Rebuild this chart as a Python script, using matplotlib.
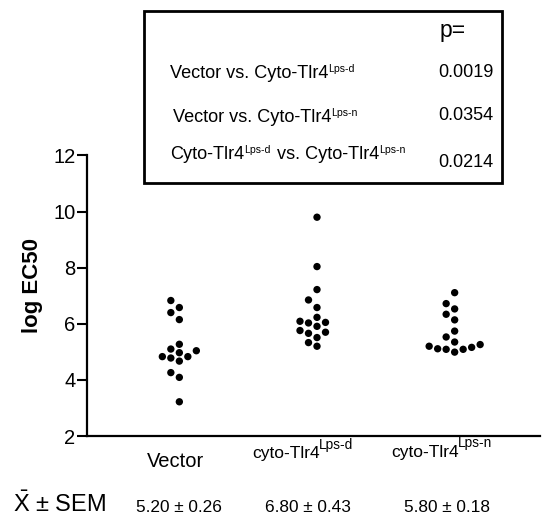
import numpy as np
import matplotlib.pyplot as plt
from matplotlib.patches import Rectangle

plt.rcParams['font.family'] = ['Liberation Sans', 'DejaVu Sans']
plt.rcParams['mathtext.fontset'] = 'custom'
plt.rcParams['mathtext.rm'] = 'Liberation Sans'
plt.rcParams['mathtext.it'] = 'Liberation Sans:italic'

# values (log EC50)
vector = [6.83, 6.58, 6.40, 6.15, 5.27, 5.10, 5.04, 4.97, 4.83, 4.83, 4.78,
          4.67, 4.26, 4.09, 3.22]
cyto_d = [9.80, 8.04, 7.22, 6.85, 6.58, 6.23, 6.05, 6.03, 6.09, 5.91, 5.76,
          5.66, 5.70, 5.51, 5.33, 5.20]
cyto_n = [7.11, 6.72, 6.53, 6.34, 6.14, 5.74, 5.53, 5.26, 5.16, 5.09, 5.35,
          4.99, 5.09, 5.11, 5.20]
groups = [vector, cyto_d, cyto_n]
# (base text, superscript)
group_labels = [('Vector', ''), ('cyto-Tlr4', 'Lps-d'), ('cyto-Tlr4', 'Lps-n')]
means = [5.20, 6.80, 5.80]
sems = [0.26, 0.43, 0.18]

comparisons = [[('Vector vs. Cyto-Tlr4', 'Lps-d')],
               [('Vector vs. Cyto-Tlr4', 'Lps-n')],
               [('Cyto-Tlr4', 'Lps-d'), (' vs. Cyto-Tlr4', 'Lps-n')]]
p_values = ['0.0019', '0.0354', '0.0214']

W, H = 547, 518
fig = plt.figure(figsize=(W / 100, H / 100), dpi=100)
ax = fig.add_axes([86.7 / W, 1 - 436 / H, (540 - 86.7) / W, (436 - 155.5) / H])
renderer = fig.canvas.get_renderer()

xlo, xhi = 0.327, 3.62
ylo, yhi = 2, 12
ax.set_xlim(xlo, xhi)
ax.set_ylim(ylo, yhi)

# pixel scale of the data, for the swarm layout
px_x = (540 - 86.7) / (xhi - xlo)
px_y = (436 - 155.5) / (yhi - ylo)


def swarm(vals, center, d=8.5):
    """place dots in columns so they don't overlap (simple beeswarm)"""
    placed = []
    order = np.argsort(vals)
    xs = np.zeros(len(vals))
    for i in order:
        y = vals[i] * px_y
        for k in [0, -1, 1, -2, 2, -3, 3, -4, 4]:
            x = k * d
            if all((x - px) ** 2 + (y - py) ** 2 >= (d * 0.95) ** 2 for px, py in placed):
                break
        placed.append((x, y))
        xs[i] = center + x / px_x
    return xs


def rich_text(x, y, parts, size, sup_size, rise, gap=0):
    """base text followed by raised superscript, x/y in pixels from top-left"""
    for base, sup in parts:
        t = fig.text(x / W, 1 - y / H, base, fontsize=size, ha='left', va='baseline')
        x += t.get_window_extent(renderer).width + gap
        if sup:
            t = fig.text(x / W, 1 - (y - rise) / H, sup, fontsize=sup_size,
                         ha='left', va='baseline')
            x += t.get_window_extent(renderer).width + 1


for i, vals in enumerate(groups):
    xs = swarm(vals, i + 1)
    ax.scatter(xs, vals, s=28, color='black', edgecolors='none', zorder=3)

for s in ['top', 'right']:
    ax.spines[s].set_visible(False)
ax.spines['left'].set_linewidth(1.6)
ax.spines['bottom'].set_linewidth(1.6)
ax.set_yticks([2, 4, 6, 8, 10, 12])
ax.tick_params(axis='y', length=7, width=1.5, labelsize=14.5, pad=1)
ax.set_xticks([])
fig.text(32.5 / W, 1 - 285.5 / H, 'log EC50', fontsize=16, fontweight='bold',
         rotation=90, ha='center', va='center')

# category labels under the axis
lab_x = [146.7, 252.7, 391.7]
lab_y = [467, 458, 457]
lab_size = [14.5, 12.5, 12.5]
for lx, ly, fs, lab in zip(lab_x, lab_y, lab_size, group_labels):
    rich_text(lx, ly, [lab], fs, 9.8, 9.5, gap=-1.5)

# mean +- SEM row
fig.text(13 / W, 1 - 512 / H, r'$\bar{\mathregular{X}}$ ± SEM', fontsize=17,
         ha='left', va='baseline')
for cx, m, e in zip([178.5, 308, 446.5], means, sems):
    fig.text(cx / W, 1 - 512 / H, f'{m:.2f} ± {e:.2f}', fontsize=12.4,
             ha='center', va='baseline')

# p-value box
fig.patches.append(Rectangle((144 / W, 1 - 182.7 / H), (501.7 - 144) / W,
                             (182.7 - 11) / H, transform=fig.transFigure,
                             fill=False, lw=2, ec='black'))
fig.text(440 / W, 1 - 37 / H, 'p=', fontsize=16.5, ha='left', va='baseline')
row_x = [170, 173, 170]
row_y = [77.7, 121.7, 159]
pv_y = [76.7, 120, 166.7]
for rx, ry, py, parts, pv in zip(row_x, row_y, pv_y, comparisons, p_values):
    rich_text(rx, ry, parts, 13.1, 7.6, 6)
    fig.text(438 / W, 1 - py / H, pv, fontsize=13, ha='left', va='baseline')

fig.savefig('out.png', dpi=100)
